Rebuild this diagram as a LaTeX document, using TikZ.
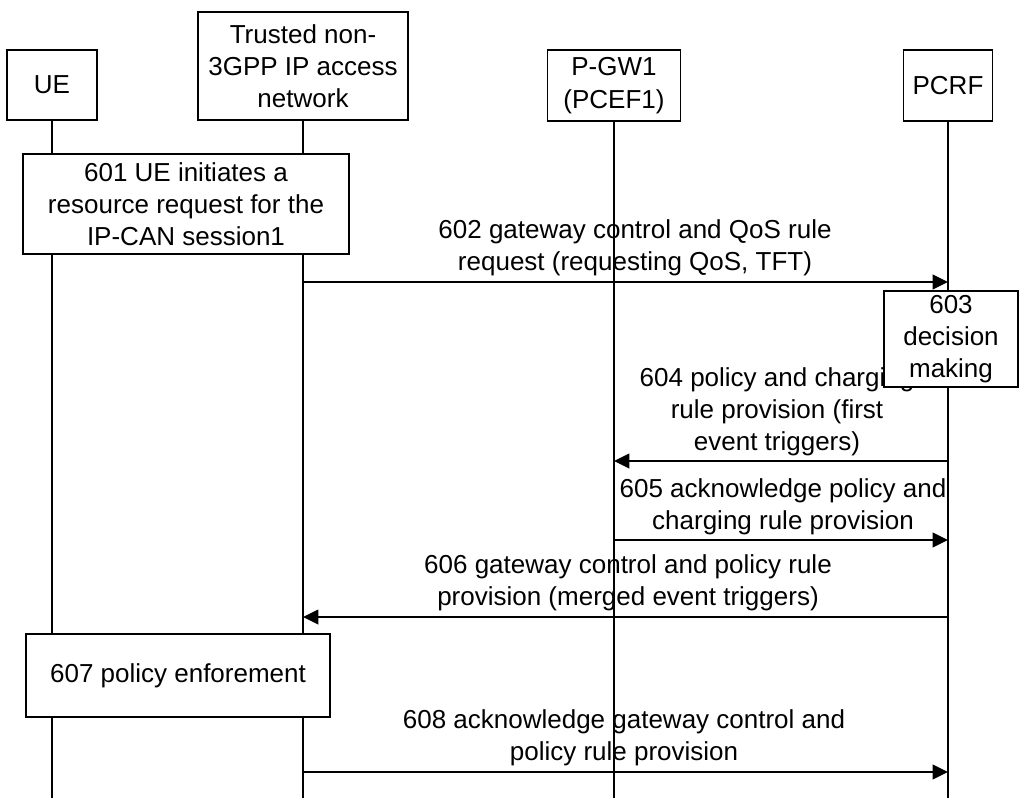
\documentclass[tikz,border=0pt]{standalone}
\usepackage{fontspec}
\setmainfont{Liberation Sans}
\usepackage{tikz}
\usetikzlibrary{calc}
\usetikzlibrary{arrows.meta}

\begin{document}
\begin{tikzpicture}[x=0.75pt,y=-0.75pt,
    txt/.style={font=\fontsize{19.5}{24.2}\selectfont, align=center, inner sep=0pt},
    box/.style={txt, draw, line width=1.1pt, fill=white},
    life/.style={line width=0.9pt},
    msg/.style={line width=1.2pt, -{Triangle[length=11.5pt,width=11pt]}}]
        \useasboundingbox (0,0) rectangle (1019,798);
        \def\bot{798}  % bottom of the lifelines

        % Heads of the lifelines
        \node[box, minimum width=67.5pt, minimum height=52.5pt] (ue) at (52,85) {UE};
        \node[box, minimum width=157.5pt, minimum height=81pt] (tna) at (303,66) {Trusted non-\\3GPP IP access\\network};
        \node[box, minimum width=99.75pt, minimum height=53.25pt] (pgw) at (614,85.5) {P-GW1\\(PCEF1)};
        \node[box, minimum width=66.75pt, minimum height=53.25pt] (pcrf) at (948,85.5) {PCRF};

        % Lower ends of the lifelines
        \coordinate (ueEnd) at (52,\bot);
        \coordinate (tnaEnd) at (303,\bot);
        \coordinate (pgwEnd) at (614,\bot);
        \coordinate (pcrfEnd) at (948,\bot);

        % Draw the lifelines
        \draw[life] (ue.south) -- (ueEnd);
        \draw[life] (tna.south) -- (tnaEnd);
        \draw[life] (pgw.south) -- (pgwEnd);
        \draw[life] (pcrf.south) -- (pcrfEnd);

        % Message end points on the lifelines
        \coordinate (t602) at (303,282);  \coordinate (p602) at (948,282);
        \coordinate (p604) at (948,461);  \coordinate (g604) at (614,461);
        \coordinate (g605) at (614,540);  \coordinate (p605) at (948,540);
        \coordinate (p606) at (948,617);  \coordinate (t606) at (303,617);
        \coordinate (t608) at (303,772);  \coordinate (p608) at (948,772);

        % Step 601
        \node[box, minimum width=244.5pt, minimum height=75pt] (s601) at (186,204) {601 UE initiates a\\resource request for the\\IP-CAN session1};

        % Step 602
        \draw[msg] (t602) -- (p602);
        \node[txt] (l602) at (635,248) {602 gateway control and QoS rule\\request (requesting QoS, TFT)};

        % Step 604 (label goes under the 603 box)
        \node[txt] (l604) at (777,412) {604 policy and charging\\rule provision (first\\event triggers)};
        \draw[msg] (p604) -- (g604);

        % Step 603
        \node[box, minimum width=100.5pt, minimum height=72pt] (s603) at (951,339) {603\\decision\\making};

        % Step 605
        \node[txt] (l605) at (783,507) {605 acknowledge policy and\\charging rule provision};
        \draw[msg] (g605) -- (p605);

        % Step 606
        \node[txt] (l606) at (628,583) {606 gateway control and policy rule\\provision (merged event triggers)};
        \draw[msg] (p606) -- (t606);

        % Step 607
        \node[box, minimum width=228pt, minimum height=62.25pt] (s607) at (178,675.5) {607 policy enforement};

        % Step 608
        \node[txt] (l608) at (624,738) {608 acknowledge gateway control and\\policy rule provision};
        \draw[msg] (t608) -- (p608);

      \end{tikzpicture}
\end{document}
